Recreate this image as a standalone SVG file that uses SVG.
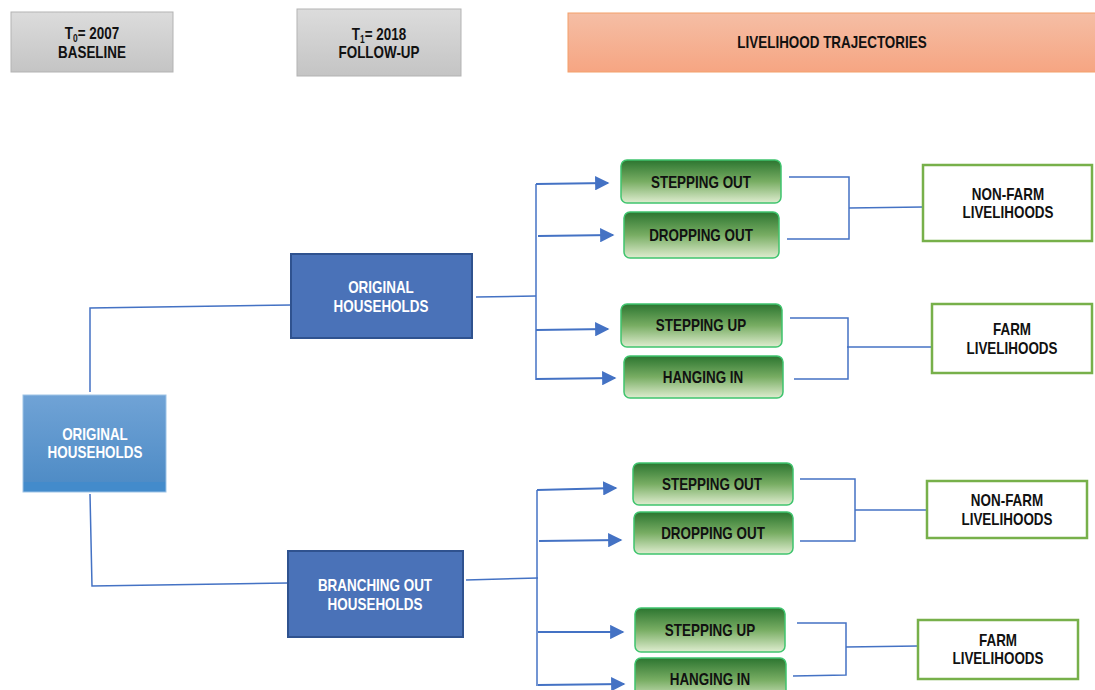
<svg xmlns="http://www.w3.org/2000/svg" width="1095" height="690" viewBox="0 0 1095 690">
<defs>
<linearGradient id="gGray" x1="0" y1="0" x2="0" y2="1"><stop offset="0" stop-color="#dcdcdc"/><stop offset="1" stop-color="#c4c4c4"/></linearGradient>
<linearGradient id="gOrange" x1="0" y1="0" x2="0" y2="1"><stop offset="0" stop-color="#f5bea5"/><stop offset="1" stop-color="#f6a582"/></linearGradient>
<linearGradient id="gLight" x1="0" y1="0" x2="0" y2="1"><stop offset="0" stop-color="#70a3d6"/><stop offset="0.9" stop-color="#4f8cc6"/><stop offset="0.9" stop-color="#438bcb"/><stop offset="1" stop-color="#438bcb"/></linearGradient>
<linearGradient id="gGreen" x1="0" y1="0" x2="0" y2="1"><stop offset="0" stop-color="#2c7530"/><stop offset="0.5" stop-color="#78ad63"/><stop offset="1" stop-color="#dfedd0"/></linearGradient>
<marker id="arr" viewBox="0 0 10 10" refX="9" refY="5" markerWidth="7" markerHeight="6.5" orient="auto" markerUnits="strokeWidth"><path d="M0,0 L10,5 L0,10 Z" fill="#4472c4"/></marker>
</defs>
<style>
.t{font-family:"Liberation Sans",Arial,sans-serif;font-weight:bold;text-anchor:middle;font-size:16px;fill:#111}
.w{fill:#fff}
.hdr{fill:url(#gGray);stroke:#b3b3b3;stroke-width:1}
.blue{fill:#4a72b8;stroke:#2f528f;stroke-width:2}
.green{fill:url(#gGreen);stroke:#3fc46e;stroke-width:1.5}
.out{fill:#fff;stroke:#77b04a;stroke-width:2.5}
.c{fill:none;stroke:#4472c4;stroke-width:1.5}
.a{fill:none;stroke:#4472c4;stroke-width:2.2;marker-end:url(#arr)}
</style>
<g id="hdr-t0"><rect class="hdr" x="11" y="12" width="162" height="60"/><text class="t" transform="translate(92 39) scale(0.84 1)">T<tspan font-size="10" dy="3">0</tspan><tspan dy="-3">= 2007</tspan></text><text class="t" transform="translate(92 58) scale(0.84 1)">BASELINE</text></g>
<g id="hdr-t1"><rect class="hdr" x="297" y="9" width="164" height="67"/><text class="t" transform="translate(379 40) scale(0.84 1)">T<tspan font-size="10" dy="3">1</tspan><tspan dy="-3">= 2018</tspan></text><text class="t" transform="translate(379 58) scale(0.84 1)">FOLLOW-UP</text></g>
<g id="hdr-traj"><rect x="568" y="13" width="530" height="59" fill="url(#gOrange)" stroke="#f4a06a" stroke-width="1"/><text class="t" transform="translate(832 48) scale(0.84 1)">LIVELIHOOD TRAJECTORIES</text></g>

<g id="connectors">
<polyline class="c" points="90,392 90,308 291,305"/>
<polyline class="c" points="90,494 92,586 288,583"/>
<polyline class="c" points="476,297 536,296"/>
<polyline class="c" points="536,184 536,380"/>
<polyline class="a" points="536,184 608,183"/>
<polyline class="a" points="538,236 613,235"/>
<polyline class="a" points="536,330 608,329"/>
<polyline class="a" points="536,379 615,378"/>
<polyline class="c" points="466,580 538,578"/>
<polyline class="c" points="537,490 537,686"/>
<polyline class="a" points="537,490 616,488"/>
<polyline class="a" points="539,541 621,540"/>
<polyline class="a" points="538,632 623,632"/>
<polyline class="a" points="538,685 624,684"/>
<polyline class="c" points="789,177 849,177 849,239 787,239"/>
<polyline class="c" points="849,208 923,207"/>
<polyline class="c" points="790,318 848,318 848,379 794,379"/>
<polyline class="c" points="847,347 932,347"/>
<polyline class="c" points="800,479 855,479 855,541 800,541"/>
<polyline class="c" points="855,510 927,510"/>
<polyline class="c" points="797,623 846,623 846,675 793,676"/>
<polyline class="c" points="846,647 918,646"/>
</g>

<g id="n-orig-left"><rect x="23" y="395" width="143" height="97" fill="url(#gLight)" stroke="#9dc3e6" stroke-width="1"/><text class="t w" transform="translate(95 440) scale(0.84 1)">ORIGINAL</text><text class="t w" transform="translate(95 458) scale(0.84 1)">HOUSEHOLDS</text></g>
<g id="n-orig-mid"><rect class="blue" x="291" y="254" width="181" height="84"/><text class="t w" transform="translate(381 293) scale(0.84 1)">ORIGINAL</text><text class="t w" transform="translate(381 312) scale(0.84 1)">HOUSEHOLDS</text></g>
<g id="n-branch"><rect class="blue" x="288" y="551" width="175" height="86"/><text class="t w" transform="translate(375 591) scale(0.84 1)">BRANCHING OUT</text><text class="t w" transform="translate(375 610) scale(0.84 1)">HOUSEHOLDS</text></g>

<g id="n-so1"><rect class="green" x="621" y="160" width="160" height="43" rx="6"/><text class="t" transform="translate(701 188) scale(0.84 1)">STEPPING OUT</text></g>
<g id="n-do1"><rect class="green" x="624" y="212" width="155" height="46" rx="6"/><text class="t" transform="translate(701 241) scale(0.84 1)">DROPPING OUT</text></g>
<g id="n-su1"><rect class="green" x="621" y="304" width="161" height="43" rx="6"/><text class="t" transform="translate(701 331) scale(0.84 1)">STEPPING UP</text></g>
<g id="n-hi1"><rect class="green" x="624" y="356" width="159" height="42" rx="6"/><text class="t" transform="translate(703 383) scale(0.84 1)">HANGING IN</text></g>

<g id="n-so2"><rect class="green" x="633" y="463" width="160" height="42" rx="6"/><text class="t" transform="translate(712 490) scale(0.84 1)">STEPPING OUT</text></g>
<g id="n-do2"><rect class="green" x="634" y="512" width="159" height="42" rx="6"/><text class="t" transform="translate(713 539) scale(0.84 1)">DROPPING OUT</text></g>
<g id="n-su2"><rect class="green" x="635" y="608" width="150" height="44" rx="6"/><text class="t" transform="translate(710 636) scale(0.84 1)">STEPPING UP</text></g>
<g id="n-hi2"><rect class="green" x="635" y="658" width="151" height="44" rx="6"/><text class="t" transform="translate(710 685) scale(0.84 1)">HANGING IN</text></g>

<g id="n-nonfarm1"><rect class="out" x="923" y="165" width="169" height="76"/><text class="t" transform="translate(1008 200) scale(0.84 1)">NON-FARM</text><text class="t" transform="translate(1008 218) scale(0.84 1)">LIVELIHOODS</text></g>
<g id="n-farm1"><rect class="out" x="932" y="304" width="160" height="69"/><text class="t" transform="translate(1012 335) scale(0.84 1)">FARM</text><text class="t" transform="translate(1012 354) scale(0.84 1)">LIVELIHOODS</text></g>
<g id="n-nonfarm2"><rect class="out" x="927" y="481" width="160" height="57"/><text class="t" transform="translate(1007 506) scale(0.84 1)">NON-FARM</text><text class="t" transform="translate(1007 525) scale(0.84 1)">LIVELIHOODS</text></g>
<g id="n-farm2"><rect class="out" x="918" y="620" width="160" height="59"/><text class="t" transform="translate(998 646) scale(0.84 1)">FARM</text><text class="t" transform="translate(998 664) scale(0.84 1)">LIVELIHOODS</text></g>
</svg>
